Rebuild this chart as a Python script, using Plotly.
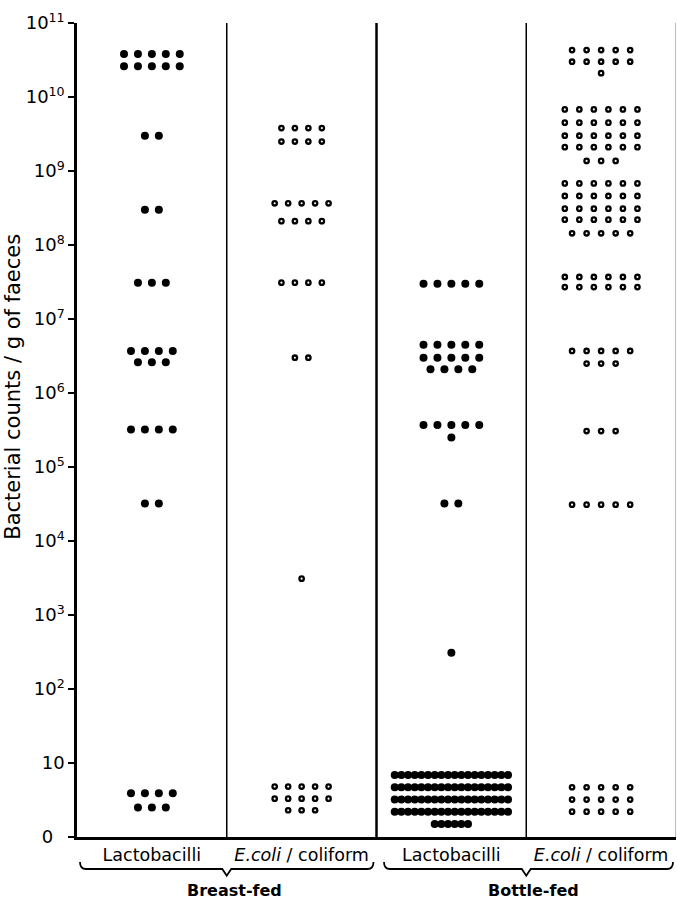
import plotly.graph_objects as go

# ---- data ----
columns = ["Lactobacilli", "<i>E.coli</i> / coliform", "Lactobacilli", "<i>E.coli</i> / coliform"]
groups = ["Breast-fed", "Bottle-fed"]

breast_lacto_values = [3.8e10, 2.6e10, 3.0e9, 3.0e8, 3.1e7, 3.7e6, 2.6e6, 3.2e5, 3.2e4, 3.9, 2.5]
breast_lacto_counts = [5, 5, 2, 2, 3, 4, 3, 4, 2, 4, 3]

breast_coli_values = [3.8e9, 2.5e9, 3.66e8, 2.1e8, 3.1e7, 3.0e6, 3.1e3, 4.8, 3.3, 2.3]
breast_coli_counts = [4, 4, 5, 4, 4, 2, 1, 5, 5, 3]

bottle_lacto_values = [3.0e7, 4.5e6, 3.0e6, 2.1e6, 3.7e5, 2.5e5, 3.2e4, 310, 6.9, 4.7, 3.2, 2.2, 1.5]
bottle_lacto_counts = [5, 5, 5, 4, 5, 1, 2, 1, 18, 18, 18, 18, 6]

bottle_coli_values = [4.3e10, 3.0e10, 2.1e10, 6.8e9, 4.5e9, 3.0e9, 2.1e9, 1.37e9,
                      6.8e8, 4.6e8, 3.1e8, 2.2e8, 1.44e8, 3.7e7, 2.7e7,
                      3.7e6, 2.5e6, 3.06e5, 3.1e4, 4.7, 3.2, 2.2]
bottle_coli_counts = [5, 5, 1, 6, 6, 6, 6, 3, 6, 6, 6, 6, 5, 6, 6, 5, 3, 3, 5, 5, 5, 5]

y_tick_vals = [1, 10, 1e2, 1e3, 1e4, 1e5, 1e6, 1e7, 1e8, 1e9, 1e10, 1e11]
y_tick_text = ["0  ", "10"] + ["10<sup>%d</sup>" % k for k in range(2, 12)]

FONT = "DejaVu Sans"


def spread(values, counts, col_index, pitch, dense_pitch, packed_below):
    xs, ys = [], []
    center = col_index + 0.5
    for v, n in zip(values, counts):
        p = dense_pitch if v < packed_below else pitch
        for i in range(n):
            xs.append(center + (i - (n - 1) / 2.0) * p)
            ys.append(v)
    return xs, ys


fig = go.Figure()

series = [
    (breast_lacto_values, breast_lacto_counts, 0, 0.093, True, 0),
    (breast_coli_values, breast_coli_counts, 1, 0.090, False, 0),
    (bottle_lacto_values, bottle_lacto_counts, 2, 0.093, True, 10),
    (bottle_coli_values, bottle_coli_counts, 3, 0.097, False, 0),
]

for vals, cnts, ci, pitch, filled, packed in series:
    xs, ys = spread(vals, cnts, ci, pitch, 0.0445, packed)
    if filled:
        marker = dict(size=8, color="black", line=dict(width=0))
    else:
        marker = dict(size=4.4, color="white", line=dict(width=2.3, color="black"))
    fig.add_trace(go.Scatter(x=xs, y=ys, mode="markers", marker=marker,
                             showlegend=False, hoverinfo="skip"))

shapes = []
# column dividers
for xv, w, c in [(1, 1.5, "black"), (2, 2.5, "black"), (3, 1.5, "black"), (4, 2, "#bbbbbb")]:
    shapes.append(dict(type="line", xref="x", yref="paper", x0=xv, x1=xv, y0=0, y1=1,
                       line=dict(color=c, width=w)))


def brace(x0, x1, xm):
    yb, ye, yt = -0.0393, -0.0307, -0.0475
    return ("M %f,%f Q %f,%f %f,%f L %f,%f L %f,%f L %f,%f L %f,%f Q %f,%f %f,%f" %
            (x0, ye, x0, yb, x0 + 0.04, yb, xm - 0.03, yb, xm, yt, xm + 0.03, yb,
             x1 - 0.04, yb, x1, yb, x1, ye))


shapes.append(dict(type="path", xref="x", yref="paper", path=brace(0.02, 1.98, 1.0),
                   line=dict(color="black", width=1.8)))
shapes.append(dict(type="path", xref="x", yref="paper", path=brace(2.05, 3.98, 3.0),
                   line=dict(color="black", width=1.8)))

annotations = [
    dict(text="Bacterial counts / g of faeces", textangle=-90, xref="paper", yref="paper",
         x=-0.107, y=0.553, showarrow=False, font=dict(family=FONT, size=21, color="black"),
         xanchor="center", yanchor="middle"),
]
for gi, g in enumerate(groups):
    annotations.append(dict(text="<b>%s</b>" % g, xref="x", yref="paper", x=1.05 + 2 * gi,
                            y=-0.0655, showarrow=False, yanchor="middle",
                            font=dict(family=FONT, size=16, color="black")))

fig.update_layout(
    width=677, height=903,
    margin=dict(l=77, r=1, t=23, b=66),
    plot_bgcolor="white", paper_bgcolor="white",
    shapes=shapes, annotations=annotations,
    xaxis=dict(range=[0, 4], showgrid=False, zeroline=False, showline=True, automargin=False,
               linecolor="black", linewidth=2.5, ticks="",
               tickvals=[0.5, 1.5, 2.5, 3.5], ticktext=columns,
               tickfont=dict(family=FONT, size=17.5, color="black")),
    yaxis=dict(type="log", range=[0, 11], showgrid=False, zeroline=False, showline=True,
               automargin=False,
               linecolor="black", linewidth=2.5, ticks="outside", ticklen=6, tickwidth=2,
               tickcolor="black", tickvals=y_tick_vals, ticktext=y_tick_text,
               tickfont=dict(family=FONT, size=18, color="black")),
)

fig.write_html("out.html", config={"displayModeBar": False},
               post_script="document.body.style.margin='0';document.body.style.overflow='hidden';")
